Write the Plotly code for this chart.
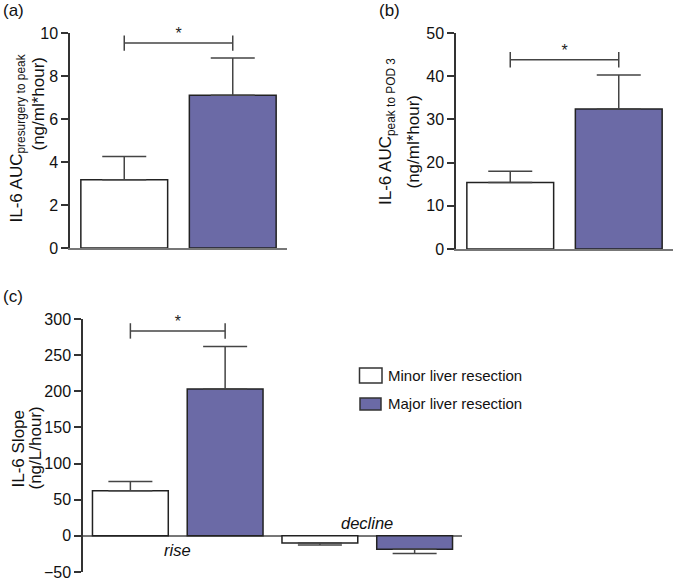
import numpy as np
import plotly.graph_objects as go

# ---------------- data ----------------
SERIES = ["Minor liver resection", "Major liver resection"]

A_MEAN = [3.17, 7.11]
A_SEM = [1.08, 1.73]
A_SIG = 9.53
A_TICKS = [0, 2, 4, 6, 8, 10]

B_MEAN = [15.4, 32.4]
B_SEM = [2.6, 7.9]
B_SIG = 43.8
B_TICKS = [0, 10, 20, 30, 40, 50]

C_GROUPS = ["rise", "decline"]
C_MINOR = [62.4, -10.0]
C_MINOR_SEM = [12.9, 2.5]
C_MAJOR = [203.0, -18.5]
C_MAJOR_SEM = [59.0, 6.0]
C_SIG = 283.5
C_TICKS = [-50, 0, 50, 100, 150, 200, 250, 300]

COLORS = ["#ffffff", "#6b6aa6"]
# --------------------------------------

W, H = 674, 580
FONT = "Liberation Sans, Arial, sans-serif"
AX = "#333333"
BASE = "#777777"
ERR = "#444444"
TXT = "#111111"


def fx(px):
    return px / W


def fy(py):
    return 1 - py / H


fig = go.Figure()
OFFSETS = [-0.25, 0.25]
BW = 0.4


def add_bars(xa, ya, means_by_series, sems_by_series):
    for s, (name, means, sems) in enumerate(zip(SERIES, means_by_series, sems_by_series)):
        idx = np.arange(len(means))
        plus = [e if m >= 0 else 0 for m, e in zip(means, sems)]
        minus = [e if m < 0 else 0 for m, e in zip(means, sems)]
        fig.add_trace(go.Bar(
            x=idx + OFFSETS[s], y=means, width=BW, name=name,
            marker=dict(color=COLORS[s], line=dict(color="#222222", width=1.5)),
            error_y=dict(type="data", symmetric=False, array=plus, arrayminus=minus,
                         color=ERR, thickness=1.5, width=22),
            xaxis=xa, yaxis=ya, showlegend=False,
        ))


def add_sig(xa, ya, group, level):
    fig.add_trace(go.Scatter(
        x=[group + OFFSETS[0], group + OFFSETS[1]], y=[level, level],
        mode="lines+markers", line=dict(color=ERR, width=1.5),
        marker=dict(symbol="line-ns", size=11, line=dict(color=ERR, width=1.5)),
        xaxis=xa, yaxis=ya, showlegend=False, hoverinfo="skip", cliponaxis=False,
    ))
    fig.add_trace(go.Scatter(
        x=[group], y=[level], mode="text", text=["*"], textposition="top center",
        textfont=dict(family=FONT, size=16, color="#222"),
        xaxis=xa, yaxis=ya, showlegend=False, hoverinfo="skip", cliponaxis=False,
    ))


# Panel a
add_bars("x", "y", [[A_MEAN[0]], [A_MEAN[1]]], [[A_SEM[0]], [A_SEM[1]]])
add_sig("x", "y", 0, A_SIG)
# Panel b
add_bars("x2", "y2", [[B_MEAN[0]], [B_MEAN[1]]], [[B_SEM[0]], [B_SEM[1]]])
add_sig("x2", "y2", 0, B_SIG)
# Panel c
add_bars("x3", "y3", [C_MINOR, C_MAJOR], [C_MINOR_SEM, C_MAJOR_SEM])
add_sig("x3", "y3", 0, C_SIG)

tickfont = dict(family=FONT, size=16, color=TXT)


def xax(domain, n, showline):
    return dict(domain=domain, range=[-0.5, n - 0.5], showline=showline, linecolor=BASE,
                linewidth=2, showticklabels=False, ticks="", showgrid=False,
                zeroline=False, fixedrange=True, automargin=False)


def yax(domain, rng, ticks, anchor, zeroline=False):
    return dict(domain=domain, range=rng, tickvals=ticks, showline=True, linecolor=AX,
                linewidth=1.5, ticks="outside", ticklen=7, tickwidth=1.5, tickcolor=AX,
                tickfont=tickfont, showgrid=False, zeroline=zeroline, zerolinecolor=BASE,
                zerolinewidth=2, anchor=anchor, fixedrange=True, automargin=False,
                ticklabeloverflow="allow")


fig.update_layout(
    template="none",
    width=W, height=H, margin=dict(l=0, r=0, t=0, b=0, pad=0, autoexpand=False),
    paper_bgcolor="white", plot_bgcolor="white",
    barmode="overlay",
    font=dict(family=FONT, size=16, color=TXT),
    xaxis=dict(xax([fx(70), fx(287)], 1, True), anchor="y"),
    yaxis=yax([fy(248), fy(33)], [0, 10], A_TICKS, "x"),
    xaxis2=dict(xax([fx(456), fx(673)], 1, True), anchor="y2"),
    yaxis2=yax([fy(249), fy(33)], [0, 50], B_TICKS, "x2"),
    xaxis3=dict(xax([fx(83), fx(462)], len(C_GROUPS), False), anchor="y3"),
    yaxis3=yax([fy(572), fy(319)], [-50, 300], C_TICKS, "x3", zeroline=True),
)

ann = []


def text(x, y, t, size=16, angle=0, xanchor="center", yanchor="middle"):
    ann.append(dict(x=x, y=y, xref="paper", yref="paper", text=t, showarrow=False,
                    textangle=angle, xanchor=xanchor, yanchor=yanchor,
                    font=dict(family=FONT, size=size, color=TXT)))


# panel labels
text(fx(1), fy(11), "(a)", size=17, xanchor="left")
text(fx(377), fy(11), "(b)", size=17, xanchor="left")
text(fx(1), fy(296), "(c)", size=17, xanchor="left")

# y titles
TS = 17
text(fx(17), fy(138.5), "IL-6 AUC<sub>presurgery to peak</sub>", size=TS, angle=-90)
text(fx(37.5), fy(104), "(ng/ml*hour)", size=TS, angle=-90)
text(fx(387), fy(132), "IL-6 AUC<sub>peak to POD 3</sub>", size=TS, angle=-90)
text(fx(412.5), fy(141), "(ng/ml*hour)", size=TS, angle=-90)
text(fx(17.5), fy(449), "IL-6 Slope", size=TS, angle=-90)
text(fx(35), fy(448.5), "(ng/L/hour)", size=TS, angle=-90)

# group labels in panel c
for i, g in enumerate(C_GROUPS):
    neg = C_MINOR[i] < 0
    ann.append(dict(x=i, y=0, xref="x3", yref="y3", text=f"<i>{g}</i>", showarrow=False,
                    xanchor="center", yanchor="bottom" if neg else "top",
                    yshift=2 if neg else -3,
                    font=dict(family=FONT, size=16.5, color=TXT)))

# legend
shapes = [
    dict(type="rect", xref="paper", yref="paper", x0=fx(359.5), x1=fx(382), y0=fy(383), y1=fy(368),
         line=dict(color="#333", width=1.5), fillcolor=COLORS[0]),
    dict(type="rect", xref="paper", yref="paper", x0=fx(360), x1=fx(381), y0=fy(410), y1=fy(398),
         line=dict(color="#333", width=1.5), fillcolor=COLORS[1]),
]
text(fx(386), fy(375), SERIES[0], size=15, xanchor="left")
text(fx(386), fy(404), SERIES[1], size=15, xanchor="left")

fig.update_layout(annotations=ann, shapes=shapes)
fig.write_html("out.html", config={"displayModeBar": False},
               post_script="document.body.style.margin='0';document.body.style.padding='0';")
